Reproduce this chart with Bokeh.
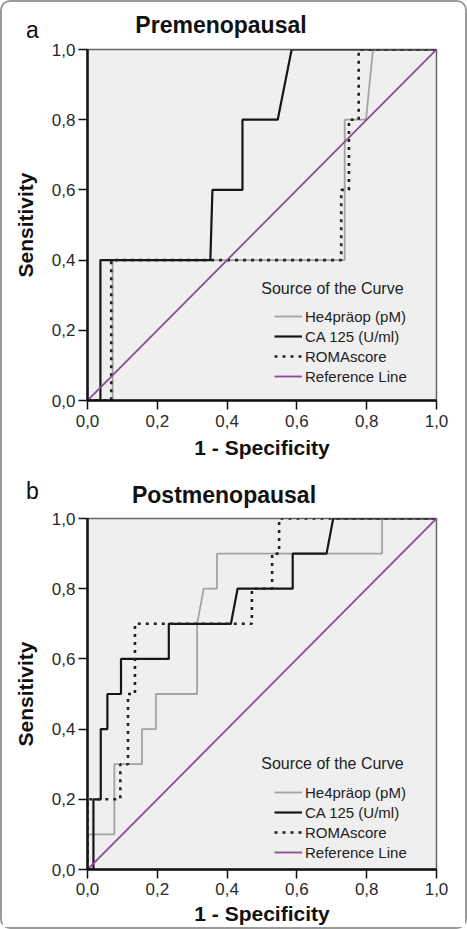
from bokeh.plotting import figure
from bokeh.models import Range1d, Label, Legend, LegendItem, FixedTicker, Div
from bokeh.layouts import column
from bokeh.embed import file_html
from bokeh.resources import INLINE

# ---- data ----
tick_values = [0.0, 0.2, 0.4, 0.6, 0.8, 1.0]
tick_labels = ["0,0", "0,2", "0,4", "0,6", "0,8", "1,0"]

series_names = ["He4präop (pM)", "CA 125 (U/ml)", "ROMAscore", "Reference Line"]

# Panel a: Premenopausal
he4_a_x = [0, 0.072, 0.072, 0.737, 0.737, 0.798, 0.818, 1.0]
he4_a_y = [0, 0, 0.4, 0.4, 0.8, 0.8, 1.0, 1.0]
ca_a_x = [0, 0.037, 0.037, 0.352, 0.358, 0.444, 0.444, 0.545, 0.585, 1.0]
ca_a_y = [0, 0, 0.4, 0.4, 0.6, 0.6, 0.8, 0.8, 1.0, 1.0]
roma_a_x = [0, 0.068, 0.068, 0.727, 0.727, 0.749, 0.749, 0.777, 0.777, 1.0]
roma_a_y = [0, 0, 0.4, 0.4, 0.6, 0.6, 0.8, 0.8, 1.0, 1.0]

# Panel b: Postmenopausal
he4_b_x = [0, 0, 0.077, 0.077, 0.156, 0.156, 0.196, 0.196, 0.314, 0.314, 0.333, 0.371, 0.371, 0.844, 0.844, 1.0]
he4_b_y = [0, 0.1, 0.1, 0.3, 0.3, 0.4, 0.4, 0.5, 0.5, 0.7, 0.8, 0.8, 0.9, 0.9, 1.0, 1.0]
ca_b_x = [0, 0.017, 0.017, 0.038, 0.038, 0.057, 0.057, 0.096, 0.096, 0.233, 0.233, 0.411, 0.430, 0.588, 0.588, 0.685, 0.704, 1.0]
ca_b_y = [0, 0, 0.2, 0.2, 0.4, 0.4, 0.5, 0.5, 0.6, 0.6, 0.7, 0.7, 0.8, 0.8, 0.9, 0.9, 1.0, 1.0]
roma_b_x = [0, 0, 0.094, 0.094, 0.116, 0.116, 0.136, 0.136, 0.471, 0.471, 0.529, 0.529, 0.549, 0.549, 1.0]
roma_b_y = [0, 0.2, 0.2, 0.3, 0.3, 0.5, 0.5, 0.7, 0.7, 0.8, 0.8, 0.9, 0.9, 1.0, 1.0]

ref_x = [0, 1]
ref_y = [0, 1]

FONT = "Liberation Sans"


def header(letter, title, height, letter_top, title_cx, title_top):
    html = (
        f'<div style="position:relative;width:463px;height:{height}px;'
        f"font-family:'Liberation Sans',Arial,sans-serif;color:#111;\">"
        f'<span style="position:absolute;left:24px;top:{letter_top}px;font-size:23px;'
        f'line-height:1;white-space:nowrap;">{letter}</span>'
        f'<span style="position:absolute;left:{title_cx}px;top:{title_top}px;font-size:23px;'
        f'font-weight:bold;line-height:1;white-space:nowrap;transform:translateX(-50%);">{title}</span>'
        f'</div>'
    )
    return Div(text=html, width=463, height=height, margin=0)


def make_panel(he4, ca, roma, height, top, bottom, tick_standoff, label_standoff,
               leg_title_y, leg_y):
    p = figure(width=463, height=height, x_range=Range1d(0, 1), y_range=Range1d(0, 1),
               output_backend="svg", toolbar_location=None, margin=0,
               min_border_left=85, min_border_right=29,
               min_border_top=top, min_border_bottom=bottom)
    p.background_fill_color = "#efefef"
    p.border_fill_color = "white"
    p.outline_line_color = "#666666"
    p.outline_line_width = 1.5
    p.xgrid.visible = False
    p.ygrid.visible = False

    for ax in (p.xaxis[0], p.yaxis[0]):
        ax.ticker = FixedTicker(ticks=tick_values)
        ax.major_label_overrides = dict(zip(tick_values, tick_labels))
        ax.minor_tick_line_color = None
        ax.major_tick_out = 9
        ax.major_tick_in = 0
        ax.major_tick_line_width = 1.5
        ax.major_tick_line_color = "#111111"
        ax.axis_line_width = 2.5
        ax.axis_line_color = "#111111"
        ax.major_label_text_font = FONT
        ax.major_label_text_font_size = "17px"
        ax.major_label_text_color = "#2a2a2a"
        ax.axis_label_text_font = FONT
        ax.axis_label_text_font_size = "21px"
        ax.axis_label_text_font_style = "bold"
        ax.axis_label_text_color = "#111111"
    p.xaxis[0].axis_label = "1 - Specificity"
    p.yaxis[0].axis_label = "Sensitivity"
    p.xaxis[0].major_label_standoff = tick_standoff
    p.xaxis[0].axis_label_standoff = label_standoff
    p.yaxis[0].major_label_standoff = 3
    p.yaxis[0].axis_label_standoff = 12

    r1 = p.line(he4[0], he4[1], line_color="#a3a3a3", line_width=1.8)
    r2 = p.line(ca[0], ca[1], line_color="#161616", line_width=2.2)
    r3 = p.line(roma[0], roma[1], line_color="#222222", line_width=2.6, line_dash="3 5")
    r4 = p.line(ref_x, ref_y, line_color="#8c4a9a", line_width=1.8)

    legend = Legend(items=[LegendItem(label=n, renderers=[r]) for n, r in zip(series_names, [r1, r2, r3, r4])],
                    location=(187, leg_y), padding=0, margin=0, spacing=0,
                    glyph_width=28, glyph_height=20, label_height=20, label_standoff=3,
                    label_text_font=FONT, label_text_font_size="15px", label_text_color="#222222",
                    background_fill_alpha=0, border_line_alpha=0)
    p.add_layout(legend)

    p.add_layout(Label(x=0.498, y=leg_title_y, text="Source of the Curve", text_font=FONT,
                       text_font_size="16px", text_color="#222222", text_baseline="alphabetic"))
    return p


head_a = header("a", "Premenopausal", 36, 16.5, 219, 12.0)
pa = make_panel((he4_a_x, he4_a_y), (ca_a_x, ca_a_y), (roma_a_x, roma_a_y),
                height=426, top=11, bottom=64, tick_standoff=5, label_standoff=6,
                leg_title_y=0.318, leg_y=14)
head_b = header("b", "Postmenopausal", 44, 15.5, 222, 19.8)
pb = make_panel((he4_b_x, he4_b_y), (ca_b_x, ca_b_y), (roma_b_x, roma_b_y),
                height=419, top=10, bottom=58, tick_standoff=4, label_standoff=4,
                leg_title_y=0.302, leg_y=7)

layout = column(head_a, pa, head_b, pb, spacing=0,
                styles={"border": "2px solid #9a9a9a", "border-radius": "10px"})

open("out.html", "w").write(file_html(layout, INLINE))
